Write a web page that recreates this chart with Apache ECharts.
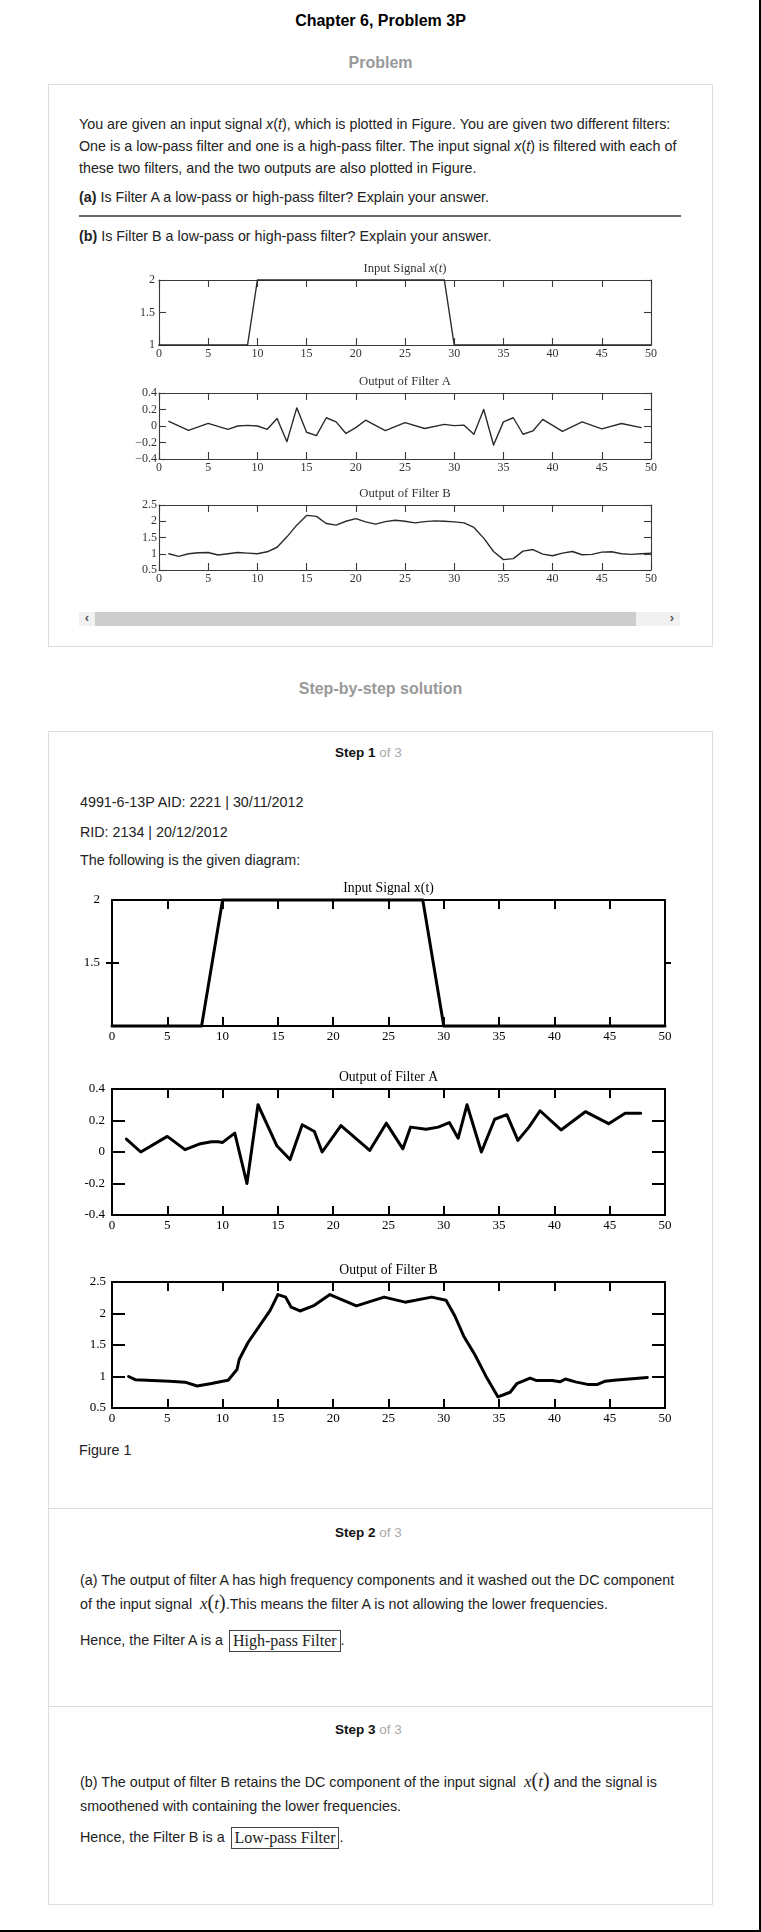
<!DOCTYPE html>
<html>
<head>
<meta charset="utf-8">
<script src="https://cdn.jsdelivr.net/npm/echarts@6/dist/echarts.min.js"></script>
<style>
html,body{margin:0;padding:0;background:#fff;}
#page{position:relative;width:761px;height:1932px;overflow:hidden;font-family:"Liberation Sans",Arial,sans-serif;color:#222;}
#chart{position:absolute;left:0;top:0;width:761px;height:1932px;}
.h{position:absolute;left:0;width:761px;text-align:center;font-weight:bold;font-size:16px;line-height:20px;white-space:nowrap;}
.box{position:absolute;border:1px solid #ddd;box-sizing:border-box;}
.sep{position:absolute;left:48px;width:665px;height:1px;background:#ddd;}
.p{position:absolute;left:79px;font-size:14.3px;line-height:20px;white-space:nowrap;color:#222;}
.step{position:absolute;left:335px;font-size:13.5px;line-height:20px;white-space:nowrap;}
.step b{color:#111;}
.step span{color:#aaa;}
.m{font-family:"Liberation Serif","Times New Roman",serif;font-size:17px;font-style:italic;}
.m .pr{font-style:normal;font-size:20px;}
.ans{display:inline-block;border:1px solid #444;padding:0 3px;font-family:"Liberation Serif","Times New Roman",serif;font-size:16px;line-height:20px;vertical-align:middle;margin-left:2px;}
</style>
</head>
<body>
<div id="page">
  <div class="h" style="top:11px;color:#000;">Chapter 6, Problem 3P</div>
  <div class="h" style="top:53px;color:#999;">Problem</div>
  <div class="box" style="left:48px;top:84px;width:665px;height:563px;"></div>
  <div class="p" style="top:114px;">You are given an input signal <i>x</i>(<i>t</i>), which is plotted in Figure. You are given two different filters:</div>
  <div class="p" style="top:136px;">One is a low-pass filter and one is a high-pass filter. The input signal <i>x</i>(<i>t</i>) is filtered with each of</div>
  <div class="p" style="top:158px;">these two filters, and the two outputs are also plotted in Figure.</div>
  <div class="p" style="top:187px;"><b>(a)</b> Is Filter A a low-pass or high-pass filter? Explain your answer.</div>
  <div style="position:absolute;left:79px;top:215px;width:602px;height:2px;background:#666;"></div>
  <div class="p" style="top:226px;"><b>(b)</b> Is Filter B a low-pass or high-pass filter? Explain your answer.</div>

  <div style="position:absolute;left:79px;top:612px;width:601px;height:14px;background:#f1f1f1;"></div>
  <div style="position:absolute;left:95px;top:612px;width:541px;height:14px;background:#cdcdcd;"></div>
  <div style="position:absolute;left:81px;top:610px;width:12px;height:16px;font-size:13px;line-height:16px;color:#555;text-align:center;font-weight:bold;">&#8249;</div>
  <div style="position:absolute;left:666px;top:610px;width:12px;height:16px;font-size:13px;line-height:16px;color:#555;text-align:center;font-weight:bold;">&#8250;</div>

  <div class="h" style="top:679px;color:#999;">Step-by-step solution</div>
  <div class="box" style="left:48px;top:731px;width:665px;height:1174px;"></div>
  <div class="sep" style="top:1508px;"></div>
  <div class="sep" style="top:1706px;"></div>

  <div class="step" style="top:743px;"><b>Step 1</b> <span>of 3</span></div>
  <div class="p" style="top:792px;left:80px;">4991-6-13P AID: 2221 | 30/11/2012</div>
  <div class="p" style="top:822px;left:80px;">RID: 2134 | 20/12/2012</div>
  <div class="p" style="top:850px;left:80px;">The following is the given diagram:</div>
  <div class="p" style="top:1440px;">Figure 1</div>

  <div class="step" style="top:1523px;"><b>Step 2</b> <span>of 3</span></div>
  <div class="p" style="top:1570px;left:80px;">(a) The output of filter A has high frequency components and it washed out the DC component</div>
  <div class="p" style="top:1592px;left:80px;">of the input signal&nbsp; <span class="m">x<span class="pr">(</span>t<span class="pr">)</span></span>.This means the filter A is not allowing the lower frequencies.</div>
  <div class="p" style="top:1630px;left:80px;">Hence, the Filter A is a <span class="ans">High-pass Filter</span>.</div>

  <div class="step" style="top:1720px;"><b>Step 3</b> <span>of 3</span></div>
  <div class="p" style="top:1770px;left:80px;">(b) The output of filter B retains the DC component of the input signal&nbsp; <span class="m">x<span class="pr">(</span>t<span class="pr">)</span></span> and the signal is</div>
  <div class="p" style="top:1796px;left:80px;">smoothened with containing the lower frequencies.</div>
  <div class="p" style="top:1827px;left:80px;">Hence, the Filter B is a <span class="ans">Low-pass Filter</span>.</div>

  <div style="position:absolute;left:759px;top:0;width:2px;height:1932px;background:#000;"></div>
  <div style="position:absolute;left:0;top:1930px;width:761px;height:2px;background:#000;"></div>

  <div id="chart"></div>
</div>
<script>
// ---------------- data ----------------
// time axis ticks (shared)
const timeTicks = [0, 5, 10, 15, 20, 25, 30, 35, 40, 45, 50];
// y tick values
const inputYTicks = [1, 1.5, 2];
const filterAYTicks = [-0.4, -0.2, 0, 0.2, 0.4];
const filterBYTicks = [0.5, 1, 1.5, 2, 2.5];

// Problem figure (textbook image)
const inputSmallT = [0, 9, 10, 29, 30, 50];
const inputSmallV = [1, 1, 2, 2, 1, 1];
const filterASmallT = [1, 3, 5, 7, 8, 9, 10, 11, 12, 13, 14, 15, 16, 17, 18, 19, 20, 21, 23, 25, 27, 29, 30, 31, 32, 33, 34, 35, 36, 37, 38, 39, 41, 43, 45, 47, 49];
const filterASmallV = [0.056, -0.052, 0.032, -0.04, 0, 0.008, 0, -0.04, 0.09, -0.19, 0.22, -0.076, -0.116, 0.10, 0.05, -0.09, -0.02, 0.07, -0.055, 0.04, -0.03, 0.02, 0.005, 0.01, -0.1, 0.2, -0.23, 0.05, 0.1, -0.1, -0.06, 0.08, -0.065, 0.05, -0.035, 0.03, -0.02];
const filterBSmallT = [1, 2, 3, 4, 5, 6, 7, 8, 9, 10, 11, 12, 13, 14, 15, 16, 17, 18, 19, 20, 21, 22, 23, 24, 25, 26, 27, 28, 29, 30, 31, 32, 33, 34, 35, 36, 37, 38, 39, 40, 41, 42, 43, 44, 45, 46, 47, 48, 49, 50];
const filterBSmallV = [1.0, 0.92, 1.0, 1.03, 1.04, 0.96, 1.0, 1.04, 1.02, 1.0, 1.06, 1.2, 1.52, 1.88, 2.18, 2.15, 1.93, 1.88, 2.0, 2.08, 1.98, 1.91, 1.99, 2.03, 2.0, 1.95, 1.99, 2.01, 2.0, 1.98, 1.95, 1.81, 1.48, 1.07, 0.82, 0.85, 1.08, 1.13, 0.99, 0.94, 1.02, 1.07, 0.97, 0.98, 1.05, 1.06, 1.0, 0.98, 1.0, 1.02];

// Solution figure (redrawn)
const inputBigT = [0, 8.1, 10, 28.1, 30, 50];
const inputBigV = [1, 1, 2, 2, 1, 1];
const filterABigT = [1.3, 2.6, 5, 6.6, 8.0, 9.0, 9.6, 10, 11.1, 12.2, 13.2, 14.9, 16.1, 17.2, 18.3, 19.0, 20.7, 23.3, 24.8, 26.3, 27.0, 28.4, 29.5, 30.5, 31.3, 32.1, 33.4, 34.6, 35.7, 36.7, 37.7, 38.7, 40.6, 42.8, 44.9, 46.4, 47.8];
const filterABigV = [0.082, 0, 0.099, 0.015, 0.053, 0.065, 0.065, 0.061, 0.12, -0.2, 0.30, 0.04, -0.048, 0.173, 0.13, 0, 0.168, 0.01, 0.183, 0.02, 0.158, 0.145, 0.158, 0.187, 0.088, 0.30, 0, 0.208, 0.237, 0.074, 0.158, 0.262, 0.14, 0.256, 0.18, 0.246, 0.246];
const filterBBigT = [1.5, 2.1, 5.2, 6.6, 7.7, 9.0, 10, 10.5, 11.3, 11.5, 12.3, 14.3, 15.0, 15.7, 16.2, 17.0, 18.3, 19.7, 22.1, 24.6, 26.5, 28.9, 30.2, 31.0, 31.8, 32.8, 33.9, 34.9, 36.0, 36.6, 37.8, 38.4, 39.8, 40.5, 41.0, 41.9, 43.0, 43.9, 44.6, 45.4, 48.4];
const filterBBigV = [1.0, 0.95, 0.925, 0.91, 0.85, 0.89, 0.925, 0.94, 1.11, 1.27, 1.54, 2.05, 2.3, 2.26, 2.10, 2.04, 2.13, 2.3, 2.12, 2.26, 2.18, 2.26, 2.21, 1.96, 1.64, 1.35, 0.975, 0.675, 0.75, 0.885, 0.975, 0.935, 0.935, 0.915, 0.96, 0.915, 0.875, 0.875, 0.925, 0.94, 0.985];

// -------------- build --------------
function zip(a, b) { return a.map((t, i) => [t, b[i]]); }
const SERIF = '"Liberation Serif","Times New Roman",serif';

const smallStyle = { line: '#3a3a3a', lw: 1.1, fs: 12, tfs: 12.7, color: '#333', xtick: 7, ytick: 7, dataW: 1.4, dataC: '#2a2a2a', nameGap: 5, xMargin: 3, yMargin: 4 };
const bigStyle = { line: '#000', lw: 2, fs: 13, tfs: 13.7, color: '#000', xtick: 9, ytick: 13, dataW: 3, dataC: '#000', nameGap: 5, xMargin: 4, yMargin: 6 };

const grids = [], xAxes = [], yAxes = [], series = [];

function panel(rect, st, cfg) {
  const gi = grids.length;
  grids.push(Object.assign({ containLabel: false, outerBoundsMode: 'none' }, rect));
  const xMin = timeTicks[0], xMax = timeTicks[timeTicks.length - 1], xInt = timeTicks[1] - timeTicks[0];
  const yt = cfg.yTicks, yMin = yt[0], yMax = yt[yt.length - 1], yInt = yt[1] - yt[0];
  const lineS = { color: st.line, width: st.lw };
  const xb = xAxes.length;
  xAxes.push({
    gridIndex: gi, type: 'value', position: 'bottom', min: xMin, max: xMax, interval: xInt,
    axisLine: { onZero: false, lineStyle: lineS },
    axisTick: { inside: true, length: st.xtick, lineStyle: lineS },
    axisLabel: { margin: st.xMargin, color: st.color, fontFamily: SERIF, fontSize: st.fs },
    splitLine: { show: false }
  });
  xAxes.push({
    gridIndex: gi, type: 'value', position: 'top', min: xMin, max: xMax, interval: xInt,
    name: cfg.title, nameLocation: 'middle', nameGap: st.nameGap,
    nameTextStyle: { color: st.color, fontFamily: SERIF, fontSize: st.tfs, rich: { i: { fontStyle: 'italic', fontFamily: SERIF, fontSize: st.tfs, color: st.color } } },
    axisLine: { onZero: false, lineStyle: lineS },
    axisTick: { inside: true, length: st.xtick, lineStyle: lineS },
    axisLabel: { show: false },
    splitLine: { show: false }
  });
  const yl = yAxes.length;
  const fmt = cfg.yFmt || (v => String(+v.toFixed(2)));
  yAxes.push({
    gridIndex: gi, type: 'value', position: 'left', min: yMin, max: yMax, interval: yInt,
    axisLine: { onZero: false, lineStyle: lineS },
    axisTick: cfg.cross ? { inside: false, length: 6, customValues: cfg.cross, lineStyle: lineS } : { inside: true, length: st.ytick, lineStyle: lineS },
    axisLabel: { margin: cfg.yMargin || st.yMargin, color: st.color, fontFamily: SERIF, fontSize: st.fs, formatter: fmt },
    splitLine: { show: false }
  });
  yAxes.push({
    gridIndex: gi, type: 'value', position: 'right', min: yMin, max: yMax, interval: yInt,
    axisLine: { onZero: false, lineStyle: lineS },
    axisTick: cfg.cross ? { inside: false, length: 6, customValues: cfg.cross, lineStyle: lineS } : { inside: true, length: st.ytick, lineStyle: lineS },
    axisLabel: { show: false }, splitLine: { show: false }
  });
  if (cfg.cross) {
    yAxes.push({
      gridIndex: gi, type: 'value', position: 'left', min: yMin, max: yMax, interval: yInt,
      axisLine: { show: false }, axisTick: { inside: true, length: 7, customValues: cfg.cross, lineStyle: lineS },
      axisLabel: { show: false }, splitLine: { show: false }
    });
    yAxes.push({
      gridIndex: gi, type: 'value', position: 'right', min: yMin, max: yMax, interval: yInt,
      axisLine: { show: false }, axisTick: { inside: true, length: 6, customValues: cfg.cross, lineStyle: lineS },
      axisLabel: { show: false }, splitLine: { show: false }
    });
  }
  series.push({
    type: 'line', xAxisIndex: xb, yAxisIndex: yl, data: cfg.data, showSymbol: false, symbol: 'none',
    clip: false, animation: false, silent: true,
    lineStyle: { color: st.dataC, width: st.dataW, join: 'round', cap: 'round' }, z: 3
  });
}

const minusFmt = v => { const r = +v.toFixed(2); return r < 0 ? '\u2212' + Math.abs(r) : String(r); };

// problem figure
panel({ left: 159, top: 280, width: 492, height: 65 }, smallStyle,
  { title: 'Input Signal {i|x}({i|t})', yTicks: inputYTicks, data: zip(inputSmallT, inputSmallV), yMargin: 4 });
panel({ left: 159, top: 393, width: 492, height: 66 }, smallStyle,
  { title: 'Output of Filter A', yTicks: filterAYTicks, data: zip(filterASmallT, filterASmallV), yFmt: minusFmt, yMargin: 2 });
panel({ left: 159, top: 505, width: 492, height: 65 }, smallStyle,
  { title: 'Output of Filter B', yTicks: filterBYTicks, data: zip(filterBSmallT, filterBSmallV), yMargin: 2 });

// solution figure
panel({ left: 112, top: 900, width: 553, height: 126 }, bigStyle,
  { title: 'Input Signal x(t)', yTicks: inputYTicks, data: zip(inputBigT, inputBigV), cross: [1.5], yMargin: 12,
    yFmt: v => (v === inputYTicks[0] ? '' : String(v)) });
panel({ left: 112, top: 1089, width: 553, height: 126 }, bigStyle,
  { title: 'Output of Filter A', yTicks: filterAYTicks, data: zip(filterABigT, filterABigV), yMargin: 7 });
panel({ left: 112, top: 1282, width: 553, height: 126 }, bigStyle,
  { title: 'Output of Filter B', yTicks: filterBYTicks, data: zip(filterBBigT, filterBBigV), yMargin: 6 });

const chart = echarts.init(document.getElementById('chart'), null, { renderer: 'canvas' });
chart.setOption({
  animation: false,
  backgroundColor: 'transparent',
  grid: grids,
  xAxis: xAxes,
  yAxis: yAxes,
  series: series
});
</script>
</body>
</html>
